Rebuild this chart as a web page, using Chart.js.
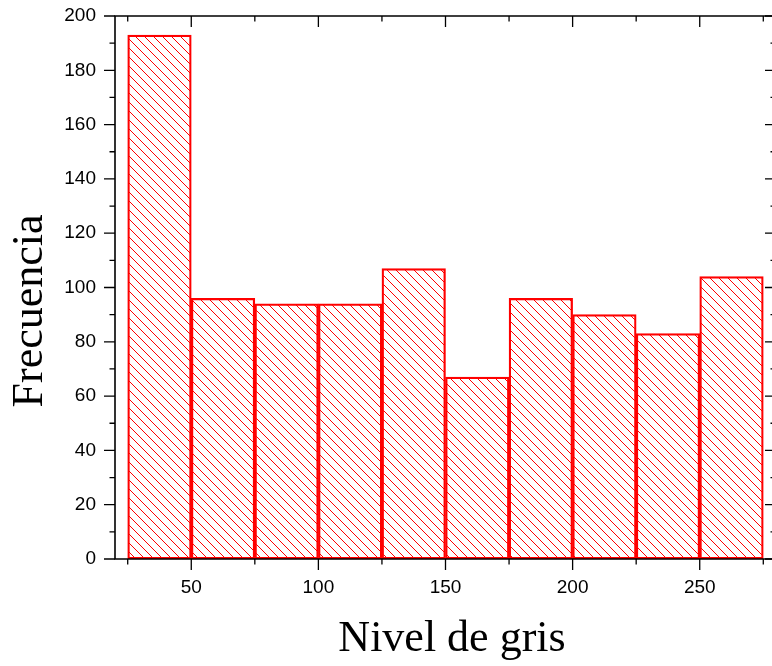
<!DOCTYPE html>
<html>
<head>
<meta charset="utf-8">
<script src="https://cdn.jsdelivr.net/npm/chart.js@4/dist/chart.umd.min.js"></script>
<style>
  html, body { margin: 0; padding: 0; background: #fff; overflow: hidden; }
  #wrap { width: 772px; height: 666px; overflow: hidden; position: relative; }
  canvas { display: block; }
</style>
</head>
<body>
<div id="wrap"><canvas id="c" width="790" height="666"></canvas></div>
<script>
// ---- data ----
const binStarts = [25, 50, 75, 100, 125, 150, 175, 200, 225, 250];
const binWidth = 25;
const counts = [193, 96, 94, 94, 107, 67, 96, 90, 83, 104];
const xMajorTicks = [50, 100, 150, 200, 250];
const xMinorTicks = [25, 75, 125, 175, 225, 275];
const yMajorTicks = [0, 20, 40, 60, 80, 100, 120, 140, 160, 180, 200];
const yMinorTicks = [10, 30, 50, 70, 90, 110, 130, 150, 170, 190];
const xTitle = 'Nivel de gris';
const yTitle = 'Frecuencia';

// hatch pattern
function makeHatch() {
  const s = 9;
  const pc = document.createElement('canvas');
  pc.width = s; pc.height = s;
  const p = pc.getContext('2d');
  p.strokeStyle = '#ff0000';
  p.lineWidth = 1;
  p.beginPath();
  p.moveTo(0, 0); p.lineTo(s, s);
  p.moveTo(-2, s - 2); p.lineTo(2, s + 2);
  p.moveTo(s - 2, -2); p.lineTo(s + 2, 2);
  p.stroke();
  return document.getElementById('c').getContext('2d').createPattern(pc, 'repeat');
}

const framePlugin = {
  id: 'frame',
  afterDraw(chart) {
    const ctx = chart.ctx;
    const xs = chart.scales.x, ys = chart.scales.y;
    const L = chart.chartArea.left, R = chart.chartArea.right;
    const T = chart.chartArea.top, B = chart.chartArea.bottom;
    ctx.save();
    ctx.strokeStyle = '#000';
    ctx.lineWidth = 1.6;
    ctx.lineCap = 'butt';
    ctx.beginPath();
    ctx.moveTo(L, T); ctx.lineTo(R, T); ctx.lineTo(R, B); ctx.lineTo(L, B); ctx.closePath();
    ctx.stroke();
    ctx.lineWidth = 1.3;
    ctx.beginPath();
    const maj = 11, mnr = 5.5;
    yMajorTicks.forEach(v => {
      const y = ys.getPixelForValue(v);
      ctx.moveTo(L - maj, y); ctx.lineTo(L, y);
      ctx.moveTo(R - maj, y); ctx.lineTo(R, y);
    });
    yMinorTicks.forEach(v => {
      const y = ys.getPixelForValue(v);
      ctx.moveTo(L - mnr, y); ctx.lineTo(L, y);
      ctx.moveTo(R - mnr, y); ctx.lineTo(R, y);
    });
    xMajorTicks.forEach(v => {
      const x = xs.getPixelForValue(v);
      ctx.moveTo(x, B); ctx.lineTo(x, B + maj);
      ctx.moveTo(x, T); ctx.lineTo(x, T + maj);
    });
    xMinorTicks.forEach(v => {
      const x = xs.getPixelForValue(v);
      ctx.moveTo(x, B); ctx.lineTo(x, B + mnr);
      ctx.moveTo(x, T); ctx.lineTo(x, T + mnr);
    });
    ctx.stroke();

    // axis titles
    ctx.fillStyle = '#000';
    ctx.font = '44px "Liberation Serif", "Times New Roman", serif';
    ctx.textAlign = 'center';
    ctx.textBaseline = 'alphabetic';
    ctx.fillText(xTitle, 452, 651);
    ctx.translate(42, 311);
    ctx.rotate(-Math.PI / 2);
    ctx.fillText(yTitle, 0, 0);
    ctx.restore();
  }
};

new Chart(document.getElementById('c'), {
  type: 'bar',
  data: {
    datasets: [{
      data: binStarts.map((s, i) => ({ x: s + binWidth / 2, y: counts[i] })),
      backgroundColor: makeHatch(),
      borderColor: '#ff0000',
      borderWidth: 1.6,
      borderSkipped: false,
      barPercentage: 1,
      categoryPercentage: 1,
      grouped: false
    }]
  },
  options: {
    responsive: false,
    animation: false,
    devicePixelRatio: 1,
    layout: { padding: { left: 0, top: 16, right: 14, bottom: 0 } },
    plugins: { legend: { display: false }, tooltip: { enabled: false }, title: { display: false } },
    scales: {
      x: {
        type: 'linear',
        min: 20, max: 280,
        offset: false,
        afterBuildTicks(scale) { scale.ticks = xMajorTicks.map(v => ({ value: v })); },
        afterFit(scale) { scale.height = 107; scale.paddingLeft = 0; scale.paddingRight = 0; },
        grid: { display: false, drawTicks: true, tickLength: 11 },
        border: { display: false },
        ticks: {
          padding: 6,
          color: '#000',
          maxRotation: 0,
          autoSkip: false,
          font: { family: '"Liberation Sans", Arial, sans-serif', size: 19 },
          callback: v => String(v)
        }
      },
      y: {
        type: 'linear',
        min: 0, max: 200,
        afterBuildTicks(scale) { scale.ticks = yMajorTicks.map(v => ({ value: v })); },
        afterFit(scale) { scale.width = 115; scale.paddingTop = 0; scale.paddingBottom = 0; },
        grid: { display: false, drawTicks: true, tickLength: 11 },
        border: { display: false },
        ticks: {
          padding: 8,
          color: '#000',
          autoSkip: false,
          font: { family: '"Liberation Sans", Arial, sans-serif', size: 19 },
          callback: v => String(v)
        }
      }
    }
  },
  plugins: [framePlugin]
});
</script>
</body>
</html>
